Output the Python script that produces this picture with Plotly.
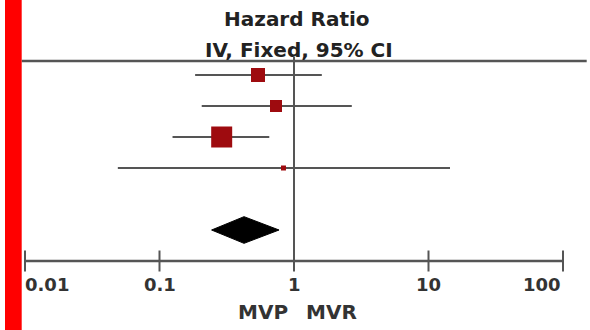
import numpy as np
import plotly.graph_objects as go

# ---- data ----
study_rows = [1, 2, 3, 4]
hr = [0.54, 0.735, 0.29, 0.835]
ci_low = [0.184, 0.206, 0.125, 0.049]
ci_high = [1.61, 2.69, 0.655, 14.45]
weights = [24.3, 17.9, 54.7, 3.1]

pooled_row = 6
pooled_hr = 0.425
pooled_low = 0.244
pooled_high = 0.774

axis_row = 7
tick_vals = [0.01, 0.1, 1, 10, 100]
tick_text = ["0.01", "0.1", "1", "10", "100"]
tick_anchor = ["left", "center", "center", "center", "right"]

title_lines = ["Hazard Ratio", "IV, Fixed, 95% CI"]
favours = ["MVP", "MVR"]

# ---- styling ----
W, H = 590, 330
GRAY = "#555555"
DARKRED = "#9E0B0F"
FONT = "DejaVu Sans"
px_decade = 134.5
x_left_px, x_one_px = 0, 294
lo_log = (x_left_px - x_one_px) / px_decade
hi_log = (W - x_one_px) / px_decade
row_px0, row_step = 44.0, 31.0
y_top = -row_px0 / row_step
y_bot = (H - row_px0) / row_step

def row_of_px(p):
    return (p - row_px0) / row_step

fig = go.Figure()

# line of no effect
fig.add_trace(go.Scatter(x=[1, 1], y=[row_of_px(57), axis_row], mode="lines",
                         line=dict(color=GRAY, width=2), hoverinfo="skip"))

# study estimates with CIs
hr_a = np.array(hr)
fig.add_trace(go.Scatter(
    x=hr, y=study_rows, mode="markers",
    marker=dict(symbol="square", color=DARKRED, size=2.84 * np.sqrt(weights),
                opacity=1, line=dict(width=0)),
    error_x=dict(type="data", symmetric=False,
                 array=list(np.array(ci_high) - hr_a),
                 arrayminus=list(hr_a - np.array(ci_low)),
                 width=0, thickness=2, color=GRAY),
    hoverinfo="skip"))

# pooled diamond
dh = 0.43
fig.add_trace(go.Scatter(
    x=[pooled_low, pooled_hr, pooled_high, pooled_hr, pooled_low],
    y=[pooled_row, pooled_row - dh, pooled_row, pooled_row + dh, pooled_row],
    mode="lines", fill="toself", fillcolor="black",
    line=dict(color="black", width=1), hoverinfo="skip"))

# x axis line and ticks
fig.add_trace(go.Scatter(x=[tick_vals[0], tick_vals[-1]], y=[axis_row, axis_row],
                         mode="lines", line=dict(color=GRAY, width=2.5), hoverinfo="skip"))
fig.add_trace(go.Scatter(x=tick_vals, y=[axis_row] * len(tick_vals), mode="markers",
                         marker=dict(symbol="line-ns-open", size=15, color=GRAY,
                                     line=dict(color=GRAY, width=2)),
                         hoverinfo="skip"))

# tick labels
for v, t, a in zip(tick_vals, tick_text, tick_anchor):
    fig.add_annotation(x=np.log10(v), y=row_of_px(284.5), xref="x", yref="y",
                       text=t, showarrow=False, xanchor=a, yanchor="middle",
                       xshift=-2 if a == "left" else 0,
                       font=dict(family=FONT, size=18, color="#333333", weight="bold"))

# favours labels
fig.add_annotation(x=np.log10(1), y=row_of_px(312), xref="x", yref="y", text=favours[0],
                   showarrow=False, xanchor="right", yanchor="middle", xshift=-4,
                   font=dict(family=FONT, size=20, color="#333333", weight="bold"))
fig.add_annotation(x=np.log10(1), y=row_of_px(312), xref="x", yref="y", text=favours[1],
                   showarrow=False, xanchor="left", yanchor="middle", xshift=10,
                   font=dict(family=FONT, size=20, color="#333333", weight="bold"))

# title lines
fig.add_annotation(x=297 / W, y=1 - 19 / H, xref="paper", yref="paper", text=title_lines[0],
                   showarrow=False, xanchor="center", yanchor="middle",
                   font=dict(family=FONT, size=20, color="#222222", weight="bold"))
fig.add_annotation(x=299 / W, y=1 - 50 / H, xref="paper", yref="paper", text=title_lines[1],
                   showarrow=False, xanchor="center", yanchor="middle",
                   font=dict(family=FONT, size=20, color="#222222", weight="bold"))

# decorative: header rule and red side bar
fig.add_shape(type="line", xref="paper", yref="paper",
              x0=21.7 / W, x1=586.7 / W, y0=1 - 61 / H, y1=1 - 61 / H,
              line=dict(color=GRAY, width=2.5))
fig.add_shape(type="rect", xref="paper", yref="paper",
              x0=5 / W, x1=21.7 / W, y0=0, y1=1,
              fillcolor="#FF0000", line=dict(width=0))

fig.update_layout(
    width=W, height=H, margin=dict(l=0, r=0, t=0, b=0),
    paper_bgcolor="white", plot_bgcolor="white", showlegend=False,
    xaxis=dict(type="log", range=[lo_log, hi_log], visible=False),
    yaxis=dict(range=[y_bot, y_top], visible=False),
)
fig.write_html("out.html")
